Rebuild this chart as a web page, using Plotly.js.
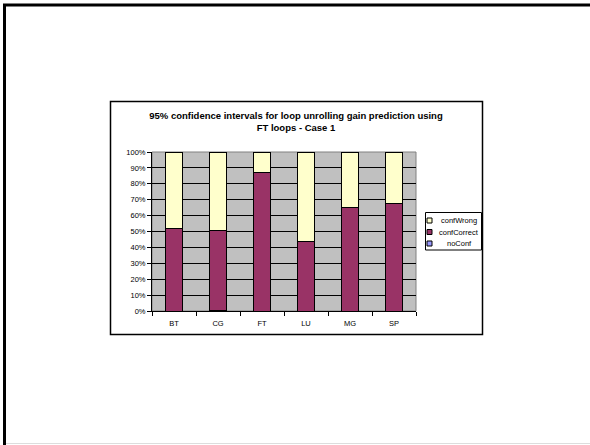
<!DOCTYPE html>
<html>
<head>
<meta charset="utf-8">
<script src="https://cdn.plot.ly/plotly-3.0.1.min.js"></script>
<style>html,body{margin:0;padding:0;background:#fff;}#chart{width:590px;height:445px;}</style>
</head>
<body>
<div id="chart"></div>
<script>
const categories = ["BT", "CG", "FT", "LU", "MG", "SP"];
const noConf = [0, 0.5, 0, 0, 0, 0];
const confCorrect = [52, 50, 87.3, 44, 65, 67.8];
const confWrong = [48, 49.5, 12.7, 56, 35, 32.2];
const seriesNames = ["noConf", "confCorrect", "confWrong"];
const seriesColors = ["#9999FF", "#993366", "#FFFFCC"];
const titleText = "<b>95% confidence intervals for loop unrolling gain prediction using<br>FT loops - Case 1</b>";

const W = 590, H = 445;
const L = 152, R = 416, T = 152, B = 311;
const px = v => (v - L) / (R - L);
const py = v => (B - v) / (B - T);
const FONT = "Arial, 'Liberation Sans', sans-serif";

const seriesData = [noConf, confCorrect, confWrong];
const traces = seriesData.map((vals, i) => ({
  type: "bar",
  name: seriesNames[i],
  x: categories,
  y: vals,
  marker: {color: seriesColors[i], line: {color: "#000", width: 1}},
  hoverinfo: "x+y+name",
  showlegend: false
}));

const shapes = [
  {type: "line", xref: "paper", yref: "paper", x0: px(4.5), x1: px(4.5), y0: py(4), y1: py(445), line: {color: "#000", width: 3}},
  {type: "line", xref: "paper", yref: "paper", x0: px(3), x1: px(590), y0: py(5), y1: py(5), line: {color: "#000", width: 3}},
  {type: "line", xref: "paper", yref: "paper", x0: px(6), x1: px(590), y0: py(443.5), y1: py(443.5), line: {color: "#dddddd", width: 1}},
  {type: "rect", xref: "paper", yref: "paper", x0: px(110.5), x1: px(482.5), y0: py(101.5), y1: py(334.5), line: {color: "#000", width: 1.5}},
  {type: "rect", xref: "paper", yref: "paper", x0: 0, x1: 1, y0: 0, y1: 1, line: {color: "#808080", width: 1}, layer: "below"},
  {type: "rect", xref: "paper", yref: "paper", x0: px(425.5), x1: px(481.5), y0: py(212.5), y1: py(250), line: {color: "#000", width: 1}, fillcolor: "#fff"}
];
const annotations = [];
const rowY = [220.5, 232, 243.5];
const legendOrder = [2, 1, 0];
legendOrder.forEach((si, r) => {
  const yc = rowY[r];
  shapes.push({type: "rect", xref: "paper", yref: "paper", x0: px(427), x1: px(432), y0: py(yc - 2.5), y1: py(yc + 2.5), fillcolor: seriesColors[si], line: {color: "#000", width: 1}});
  annotations.push({xref: "paper", yref: "paper", x: px(459), y: py(yc), text: seriesNames[si], showarrow: false, xanchor: "center", yanchor: "middle", font: {family: FONT, size: 7.5, color: "#000"}});
});

const layout = {
  width: W, height: H,
  margin: {l: L, r: W - R, t: T, b: H - B, pad: 0},
  paper_bgcolor: "#fff",
  plot_bgcolor: "#C0C0C0",
  barmode: "stack",
  bargap: 0.6,
  showlegend: false,
  font: {family: FONT, size: 7.5, color: "#000"},
  title: {text: titleText, x: px(296), xref: "paper", xanchor: "center", y: 1 - 119 / H, yanchor: "top", font: {family: FONT, size: 9.5, color: "#000"}},
  xaxis: {
    type: "category", showgrid: false, showline: true, linecolor: "#000", linewidth: 1,
    ticks: "outside", tickson: "boundaries", ticklen: 4, tickcolor: "#000",
    ticklabelstandoff: 5,
    tickfont: {family: FONT, size: 7.5}, zeroline: false, fixedrange: true
  },
  yaxis: {
    range: [0, 100], dtick: 10, ticksuffix: "%", showgrid: true, gridcolor: "#000", gridwidth: 1,
    showline: true, linecolor: "#000", linewidth: 1, ticks: "outside", ticklen: 4, tickcolor: "#000",
    tickfont: {family: FONT, size: 7.5}, zeroline: false, fixedrange: true
  },
  shapes: shapes,
  annotations: annotations
};

Plotly.newPlot("chart", traces, layout, {displayModeBar: false, staticPlot: true});
</script>
</body>
</html>
